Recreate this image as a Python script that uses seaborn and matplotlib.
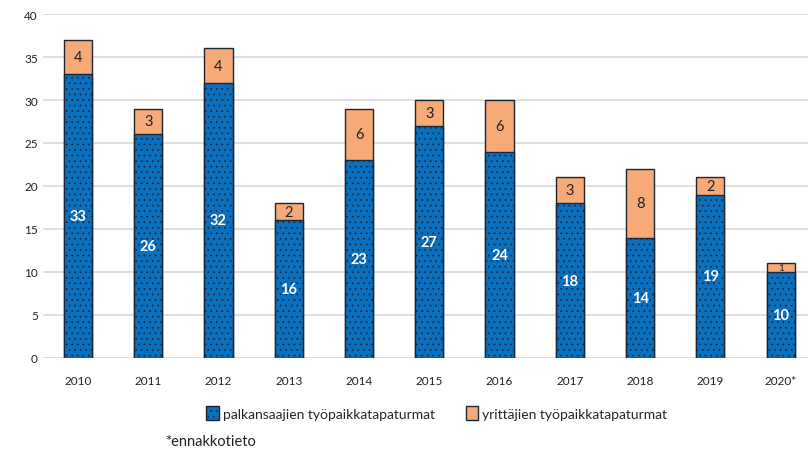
import matplotlib
matplotlib.use("Agg")
import matplotlib.pyplot as plt
import pandas as pd
import seaborn as sns

years = ["2010", "2011", "2012", "2013", "2014", "2015", "2016", "2017", "2018", "2019", "2020*"]
employees = [33, 26, 32, 16, 23, 27, 24, 18, 14, 19, 10]
entrepreneurs = [4, 3, 4, 2, 6, 3, 6, 3, 8, 2, 1]

BLUE = "#0a6fbd"
ORANGE = "#f5aa78"
EDGE = "#1b2633"

sns.set_theme(style="white")
plt.rcParams["font.family"] = ["Lato", "DejaVu Sans"]
plt.rcParams["hatch.linewidth"] = 0.5
plt.rcParams["hatch.color"] = EDGE

df = pd.DataFrame({"year": years, "employees": employees, "entrepreneurs": entrepreneurs})
df["total"] = df["employees"] + df["entrepreneurs"]

fig = plt.figure(figsize=(8.08, 4.56), dpi=100)
ax = fig.add_axes([0.053, 0.213, 0.947, 0.754])

sns.barplot(data=df, x="year", y="total", color=ORANGE, saturation=1, width=0.4,
            edgecolor=EDGE, linewidth=1.0, ax=ax, label="yrittäjien työpaikkatapaturmat")
n_orange = len(ax.patches)
sns.barplot(data=df, x="year", y="employees", color=BLUE, saturation=1, width=0.4,
            edgecolor=EDGE, linewidth=1.0, ax=ax, label="palkansaajien työpaikkatapaturmat")
for p in ax.patches[n_orange:]:
    p.set_hatch("...")

for i, row in df.iterrows():
    ax.text(i, row["employees"] / 2, str(row["employees"]), ha="center", va="center",
            color="white", fontsize=10.5, fontweight="bold")
    ax.text(i, row["employees"] + row["entrepreneurs"] / 2, str(row["entrepreneurs"]),
            ha="center", va="center", color="#222222", fontsize=10.5 if row["entrepreneurs"] > 1 else 7)

ax.set_ylim(0, 40)
ax.set_xlim(-0.5, 10.39)
ax.set_yticks(range(0, 41, 5))
ax.yaxis.grid(True, color="#d9d9d9", linewidth=1.2)
ax.set_axisbelow(True)
for s in ax.spines.values():
    s.set_visible(False)
ax.tick_params(axis="both", length=0, labelsize=8.5, colors="#222222")
ax.tick_params(axis="x", pad=12)
ax.set_xlabel("")
ax.set_ylabel("")

handles, labels = ax.get_legend_handles_labels()
order = [1, 0]
ax.legend([handles[k] for k in order], [labels[k] for k in order], loc="center",
          bbox_to_anchor=(0.515, -0.16), ncol=2, frameon=False, fontsize=10,
          handlelength=0.9, handleheight=1.1, handletextpad=0.3, columnspacing=2.2)

fig.text(0.205, 0.015, "*ennakkotieto", fontsize=10.5, ha="left", va="bottom", color="#222222")

fig.savefig("out.png", dpi=100)
